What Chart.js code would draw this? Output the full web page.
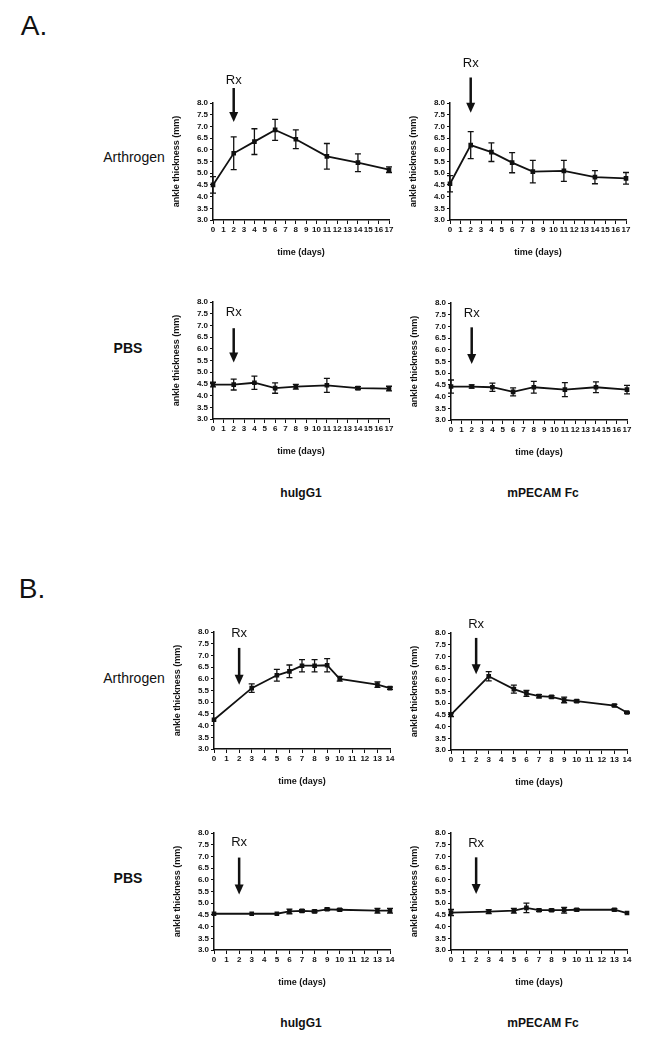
<!DOCTYPE html>
<html>
<head>
<meta charset="utf-8">
<script src="https://cdn.jsdelivr.net/npm/chart.js@4"></script>
<style>
  body { margin: 0; background: #fff; width: 657px; height: 1050px; position: relative; overflow: hidden;
         font-family: 'Liberation Sans', Arial, sans-serif; color: #111; }
  .lbl { position: absolute; white-space: nowrap; transform: translate(-50%, -50%); }
  canvas { position: absolute; }
</style>
</head>
<body>
<div class="lbl" style="left:34px;top:26px;font-size:28px;">A.</div>
<div class="lbl" style="left:32px;top:589px;font-size:28px;">B.</div>
<div class="lbl" style="left:134px;top:157px;font-size:14px;">Arthrogen</div>
<div class="lbl" style="left:128px;top:348px;font-size:14px;font-weight:bold;">PBS</div>
<div class="lbl" style="left:134px;top:678px;font-size:14px;">Arthrogen</div>
<div class="lbl" style="left:128px;top:878px;font-size:14px;font-weight:bold;">PBS</div>
<div class="lbl" style="left:301px;top:493px;font-size:12px;font-weight:bold;">huIgG1</div>
<div class="lbl" style="left:543px;top:493px;font-size:12px;font-weight:bold;">mPECAM Fc</div>
<div class="lbl" style="left:301px;top:1023px;font-size:12px;font-weight:bold;">huIgG1</div>
<div class="lbl" style="left:543px;top:1023px;font-size:12px;font-weight:bold;">mPECAM Fc</div>

<script>
// panel A: days 0-17
const daysA = [0, 2, 4, 6, 8, 11, 14, 17];
const arthIgA = [4.5, 5.85, 6.35, 6.85, 6.45, 5.72, 5.45, 5.15];
const arthIgAErr = [0.35, 0.7, 0.55, 0.45, 0.4, 0.55, 0.38, 0.12];
const arthPecA = [4.55, 6.2, 5.9, 5.45, 5.07, 5.1, 4.83, 4.78];
const arthPecAErr = [0.35, 0.58, 0.4, 0.43, 0.48, 0.45, 0.28, 0.25];
const pbsIgA = [4.47, 4.47, 4.55, 4.32, 4.38, 4.44, 4.32, 4.3];
const pbsIgAErr = [0.1, 0.23, 0.28, 0.22, 0.1, 0.3, 0.06, 0.1];
const pbsPecA = [4.43, 4.43, 4.4, 4.2, 4.4, 4.3, 4.4, 4.3];
const pbsPecAErr = [0.28, 0.07, 0.18, 0.17, 0.25, 0.3, 0.23, 0.18];

// panel B: days 0-14
const daysB = [0, 3, 5, 6, 7, 8, 9, 10, 13, 14];
const arthIgB = [4.25, 5.6, 6.15, 6.32, 6.56, 6.56, 6.58, 6.0, 5.75, 5.6];
const arthIgBErr = [0, 0.18, 0.25, 0.27, 0.26, 0.26, 0.28, 0.1, 0.12, 0.05];
const arthPecB = [4.51, 6.15, 5.6, 5.42, 5.3, 5.27, 5.14, 5.09, 4.9, 4.6];
const arthPecBErr = [0.08, 0.2, 0.17, 0.13, 0.07, 0.05, 0.12, 0.05, 0.05, 0.03];
const pbsIgB = [4.55, 4.55, 4.55, 4.65, 4.67, 4.65, 4.74, 4.72, 4.68, 4.68];
const pbsIgBErr = [0, 0, 0, 0.1, 0.05, 0.05, 0.05, 0.05, 0.1, 0.1];
const pbsPecB = [4.6, 4.64, 4.68, 4.8, 4.7, 4.7, 4.7, 4.72, 4.72, 4.58];
const pbsPecBErr = [0.13, 0.08, 0.1, 0.2, 0.05, 0.05, 0.12, 0.05, 0.05, 0];

const yTicksMin = 3, yTicksMax = 8, yStep = 0.5;
const yTitle = 'ankle thickness (mm)';
const xTitle = 'time (days)';

// layout of each small chart (plot-area corner) + Rx marker in data units [label, from, to]
const Y_W = 50, X_H = 45, PAD_TOP = 50, PAD_R = 12, PLOT_W = 176, PLOT_H = 117;
const panels = [
  { left: 213, top: 103, days: daysA, vals: arthIgA, errs: arthIgAErr, xMax: 17, rx: [8.98, 8.64, 7.19] },
  { left: 450, top: 103, days: daysA, vals: arthPecA, errs: arthPecAErr, xMax: 17, rx: [9.68, 9.09, 7.58] },
  { left: 213, top: 302, days: daysA, vals: pbsIgA, errs: pbsIgAErr, xMax: 17, rx: [7.57, 6.88, 5.41] },
  { left: 451, top: 303, days: daysA, vals: pbsPecA, errs: pbsPecAErr, xMax: 17, rx: [7.57, 6.96, 5.39] },
  { left: 214, top: 632, days: daysB, vals: arthIgB, errs: arthIgBErr, xMax: 14, rx: [7.96, 7.32, 5.75] },
  { left: 451, top: 633, days: daysB, vals: arthPecB, errs: arthPecBErr, xMax: 14, rx: [8.38, 7.79, 6.24] },
  { left: 214, top: 833, days: daysB, vals: pbsIgB, errs: pbsIgBErr, xMax: 14, rx: [7.6, 6.95, 5.37] },
  { left: 451, top: 833, days: daysB, vals: pbsPecB, errs: pbsPecBErr, xMax: 14, rx: [7.57, 6.96, 5.39] }
];

const tickFont = { family: "'Liberation Sans', Arial, sans-serif", size: 8, weight: 'bold' };
const titleFont = { family: "'Liberation Sans', Arial, sans-serif", size: 9, weight: 'bold' };

// error bars + Rx arrow
const extras = {
  id: 'extras',
  afterDatasetsDraw(chart, args, opts) {
    const { ctx, scales: { x, y } } = chart;
    const data = chart.data.datasets[0].data;
    ctx.save();
    ctx.strokeStyle = '#111';
    ctx.fillStyle = '#111';
    ctx.lineWidth = 1.3;
    data.forEach((p, i) => {
      const e = opts.errors[i];
      if (!e) return;
      const px = x.getPixelForValue(p.x);
      const t = y.getPixelForValue(p.y + e);
      const b = y.getPixelForValue(p.y - e);
      ctx.beginPath();
      ctx.moveTo(px, t); ctx.lineTo(px, b);
      ctx.moveTo(px - 3, t); ctx.lineTo(px + 3, t);
      ctx.moveTo(px - 3, b); ctx.lineTo(px + 3, b);
      ctx.stroke();
    });
    const [lab, from, to] = opts.rx;
    const ax = x.getPixelForValue(2);
    const y0 = y.getPixelForValue(from), y1 = y.getPixelForValue(to);
    ctx.font = "13px 'Liberation Sans', Arial, sans-serif";
    ctx.textAlign = 'center';
    ctx.textBaseline = 'middle';
    ctx.fillText('Rx', ax, y.getPixelForValue(lab));
    ctx.lineWidth = 2.5;
    ctx.beginPath(); ctx.moveTo(ax, y0); ctx.lineTo(ax, y1 - 8); ctx.stroke();
    ctx.beginPath();
    ctx.moveTo(ax - 4.5, y1 - 10); ctx.lineTo(ax + 4.5, y1 - 10); ctx.lineTo(ax, y1);
    ctx.closePath(); ctx.fill();
    ctx.restore();
  }
};

panels.forEach(p => {
  const cv = document.createElement('canvas');
  cv.width = Y_W + PLOT_W + PAD_R;
  cv.height = PAD_TOP + PLOT_H + X_H;
  cv.style.left = (p.left - Y_W) + 'px';
  cv.style.top = (p.top - PAD_TOP) + 'px';
  document.body.appendChild(cv);

  new Chart(cv.getContext('2d'), {
    type: 'line',
    data: {
      datasets: [{
        data: p.days.map((d, i) => ({ x: d, y: p.vals[i] })),
        borderColor: '#111',
        backgroundColor: '#111',
        borderWidth: 1.8,
        pointRadius: 2,
        pointStyle: 'rect',
        tension: 0,
        clip: false
      }]
    },
    options: {
      responsive: false,
      animation: false,
      devicePixelRatio: 1,
      layout: { padding: { left: 0, top: PAD_TOP, right: PAD_R, bottom: 0 } },
      plugins: {
        legend: { display: false },
        tooltip: { enabled: false },
        extras: { errors: p.errs, rx: p.rx }
      },
      scales: {
        x: {
          type: 'linear', min: 0, max: p.xMax,
          afterFit: s => { s.height = X_H; },
          ticks: { stepSize: 1, autoSkip: false, maxRotation: 0, color: '#111', font: tickFont, padding: 1 },
          grid: { drawOnChartArea: false, tickLength: 4, color: '#111', lineWidth: 1 },
          border: { display: true, color: '#111', width: 1.5 },
          title: { display: true, text: xTitle, color: '#111', font: titleFont, padding: { top: 0, bottom: 7 } }
        },
        y: {
          min: yTicksMin, max: yTicksMax,
          afterFit: s => { s.width = Y_W; },
          ticks: { stepSize: yStep, autoSkip: false, color: '#111', font: tickFont, padding: 2, callback: v => v.toFixed(1) },
          grid: { drawOnChartArea: false, tickLength: 3, color: '#111', lineWidth: 1 },
          border: { display: true, color: '#111', width: 1.5 },
          title: { display: true, text: yTitle, color: '#111', font: titleFont, padding: { top: 8, bottom: 0 } }
        }
      }
    },
    plugins: [extras]
  });
});
</script>
</body>
</html>
